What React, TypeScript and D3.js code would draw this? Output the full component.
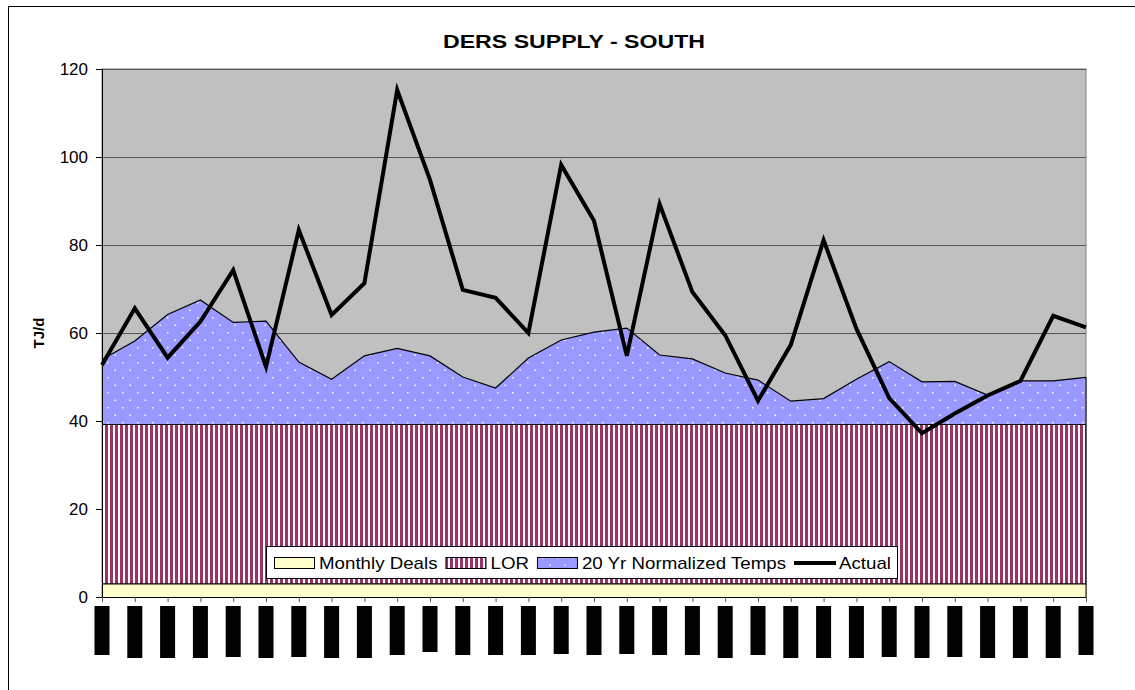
import React, { useEffect, useRef } from 'react';
import * as d3 from 'd3';

// values, one per month (31 months)
const monthlyDeals = [3, 3, 3, 3, 3, 3, 3, 3, 3, 3, 3, 3, 3, 3, 3, 3, 3, 3, 3, 3, 3, 3, 3, 3, 3, 3, 3, 3, 3, 3, 3];
const lor = [36.2, 36.2, 36.2, 36.2, 36.2, 36.2, 36.2, 36.2, 36.2, 36.2, 36.2, 36.2, 36.2, 36.2, 36.2, 36.2,
  36.2, 36.2, 36.2, 36.2, 36.2, 36.2, 36.2, 36.2, 36.2, 36.2, 36.2, 36.2, 36.2, 36.2, 36.2];
const normalizedTemps = [14.8, 19.0, 25.0, 28.3, 23.2, 23.5, 14.2, 10.3, 15.6, 17.3, 15.6, 10.8, 8.3, 15.1, 19.2, 21.0,
  21.9, 15.8, 14.9, 11.7, 10.1, 5.3, 5.9, 10.3, 14.3, 9.7, 9.8, 6.7, 9.9, 9.9, 10.7];
const actual = [52.7, 65.6, 54.4, 62.6, 74.3, 52.3, 83.4, 64.1, 71.3, 115.2, 94.8, 69.8, 68, 60, 98.2, 85.5,
  54.8, 89.3, 69.3, 59.5, 44.6, 57.3, 81.1, 61, 45.2, 37.2, 41.7, 45.8, 49.1, 63.9, 61.3];
// the month labels render as solid black blocks in the reference; their lengths
const labelBlock = [49, 52, 52, 52, 51, 52, 51, 52, 52, 49, 46, 49, 49, 49, 48, 49,
  48, 49, 49, 52, 49, 52, 52, 52, 51, 52, 51, 52, 52, 52, 49];
const yTicks = [0, 20, 40, 60, 80, 100, 120];
const seriesNames = ['Monthly Deals', 'LOR', '20 Yr Normalized Temps', 'Actual'];

const App = () => {
  const ref = useRef<HTMLDivElement>(null);

  useEffect(() => {
    const width = 1135;
    const height = 690;
    const margin = { top: 69, right: 49, bottom: 93, left: 102 };
    const font = 'Arial, "Liberation Sans", sans-serif';

    const months = monthlyDeals.map((_, i) => i);
    const table = months.map(i => ({
      i,
      deals: monthlyDeals[i],
      lor: lor[i],
      normal: normalizedTemps[i],
    }));

    const x = d3.scalePoint<number>()
      .domain(months)
      .range([margin.left, width - margin.right]);

    const y = d3.scaleLinear()
      .domain([0, 120])
      .range([height - margin.bottom, margin.top]);

    const stacked = d3.stack<any>().keys(['deals', 'lor', 'normal'])(table);

    d3.select(ref.current).selectAll('*').remove();
    const svg = d3.select(ref.current)
      .append('svg')
      .attr('width', width)
      .attr('height', height)
      .style('position', 'absolute')
      .style('left', 0)
      .style('top', 0)
      .style('font-family', font);

    svg.append('rect').attr('width', width).attr('height', height).attr('fill', '#fff');
    // chart frame
    svg.append('rect')
      .attr('x', 8.5).attr('y', 6.5)
      .attr('width', width + 20).attr('height', height + 20)
      .attr('fill', 'none').attr('stroke', '#000');

    const defs = svg.append('defs');
    const stripes = defs.append('pattern')
      .attr('id', 'lorStripes')
      .attr('patternUnits', 'userSpaceOnUse')
      .attr('width', 5).attr('height', 5);
    stripes.append('rect').attr('width', 5).attr('height', 5).attr('fill', '#fff');
    stripes.append('rect').attr('x', 0).attr('width', 3).attr('height', 5).attr('fill', '#993366');

    const dots = defs.append('pattern')
      .attr('id', 'tempDots')
      .attr('patternUnits', 'userSpaceOnUse')
      .attr('width', 15).attr('height', 15);
    dots.append('rect').attr('width', 15).attr('height', 15).attr('fill', '#9999FF');
    dots.append('rect').attr('x', 2).attr('y', 2).attr('width', 1.5).attr('height', 1.5).attr('fill', '#fff');
    dots.append('rect').attr('x', 9.5).attr('y', 9.5).attr('width', 1.5).attr('height', 1.5).attr('fill', '#fff');

    // plot background
    svg.append('rect')
      .attr('x', margin.left).attr('y', margin.top)
      .attr('width', width - margin.right - margin.left)
      .attr('height', height - margin.bottom - margin.top)
      .attr('fill', '#C0C0C0')
      .attr('stroke', '#808080');

    // gridlines
    svg.append('g')
      .selectAll('line')
      .data(yTicks.filter(d => d > 0))
      .join('line')
      .attr('x1', margin.left).attr('x2', width - margin.right)
      .attr('y1', d => y(d) + 0.5).attr('y2', d => y(d) + 0.5)
      .attr('stroke', '#555');

    const fills = ['#FFFFCC', 'url(#lorStripes)', 'url(#tempDots)'];
    const area = d3.area<any>()
      .x(d => x(d.data.i)!)
      .y0(d => y(d[0]))
      .y1(d => y(d[1]));
    const topLine = d3.line<any>()
      .x(d => x(d.data.i)!)
      .y(d => y(d[1]));

    svg.append('g')
      .selectAll('path')
      .data(stacked)
      .join('path')
      .attr('fill', (_, i) => fills[i])
      .attr('d', area);

    svg.append('g')
      .selectAll('path')
      .data(stacked)
      .join('path')
      .attr('fill', 'none')
      .attr('stroke', '#000')
      .attr('stroke-width', 1.2)
      .attr('d', topLine);

    // right edge of the stacked areas
    svg.append('line')
      .attr('x1', width - margin.right).attr('x2', width - margin.right)
      .attr('y1', y(0)).attr('y2', y(stacked[2][30][1]))
      .attr('stroke', '#000');

    // actual line
    const line = d3.line<number>()
      .x((_, i) => x(i)!)
      .y(d => y(d));
    svg.append('path')
      .datum(actual)
      .attr('fill', 'none')
      .attr('stroke', '#000')
      .attr('stroke-width', 4)
      .attr('stroke-linejoin', 'miter')
      .attr('d', line);

    // y axis
    const yAxis = svg.append('g');
    yAxis.append('line')
      .attr('x1', margin.left + 0.5).attr('x2', margin.left + 0.5)
      .attr('y1', y(120)).attr('y2', y(0))
      .attr('stroke', '#000');
    yAxis.selectAll('.tick')
      .data(yTicks)
      .join('line')
      .attr('x1', margin.left - 6).attr('x2', margin.left)
      .attr('y1', d => y(d) + 0.5).attr('y2', d => y(d) + 0.5)
      .attr('stroke', '#000');
    yAxis.selectAll('text')
      .data(yTicks)
      .join('text')
      .attr('x', margin.left - 14)
      .attr('y', d => y(d) + 6)
      .attr('text-anchor', 'end')
      .attr('font-size', 17)
      .text(d => d);

    svg.append('text')
      .attr('transform', `translate(44,${(y(0) + y(120)) / 2}) rotate(-90)`)
      .attr('text-anchor', 'middle')
      .attr('font-size', 15)
      .attr('font-weight', 'bold')
      .text('TJ/d');

    // x axis
    const xAxis = svg.append('g');
    xAxis.append('line')
      .attr('x1', margin.left).attr('x2', width - margin.right)
      .attr('y1', y(0) + 0.5).attr('y2', y(0) + 0.5)
      .attr('stroke', '#000');
    xAxis.selectAll('line.tick')
      .data(months)
      .join('line')
      .attr('class', 'tick')
      .attr('x1', d => x(d)! + 0.5).attr('x2', d => x(d)! + 0.5)
      .attr('y1', y(0)).attr('y2', y(0) + 5)
      .attr('stroke', '#555');
    xAxis.selectAll('rect')
      .data(months)
      .join('rect')
      .attr('x', d => x(d)! - 7.5)
      .attr('y', y(0) + 9)
      .attr('width', 15)
      .attr('height', d => labelBlock[d])
      .attr('fill', '#000');

    // title
    svg.append('text')
      .attr('x', 574)
      .attr('y', 48)
      .attr('text-anchor', 'middle')
      .attr('font-size', 18)
      .attr('font-weight', 'bold')
      .attr('textLength', 262)
      .attr('lengthAdjust', 'spacingAndGlyphs')
      .text('DERS SUPPLY - SOUTH');

    // legend (Excel draws this text a little wide, so stretch it)
    const legend = svg.append('g');
    const box = legend.append('rect')
      .attr('x', 266.5).attr('y', 546.5)
      .attr('height', 32)
      .attr('fill', '#fff')
      .attr('stroke', '#000');
    let cx = 274;
    seriesNames.forEach((name, i) => {
      if (i < 3) {
        legend.append('rect')
          .attr('x', cx + 0.5).attr('y', 557.5)
          .attr('width', 40).attr('height', 11)
          .attr('fill', fills[i])
          .attr('stroke', '#000');
      } else {
        legend.append('line')
          .attr('x1', cx).attr('x2', cx + 42)
          .attr('y1', 563).attr('y2', 563)
          .attr('stroke', '#000').attr('stroke-width', 4);
      }
      const t = legend.append('text')
        .attr('x', cx + 45)
        .attr('y', 569)
        .attr('font-size', 17)
        .text(name);
      const w = (t.node() as SVGTextElement).getComputedTextLength() * 1.1;
      t.attr('textLength', w).attr('lengthAdjust', 'spacingAndGlyphs');
      cx += 45 + w + 8;
    });
    box.attr('width', cx - 268);
  }, []);

  return <div ref={ref}></div>;
};

export default App;
